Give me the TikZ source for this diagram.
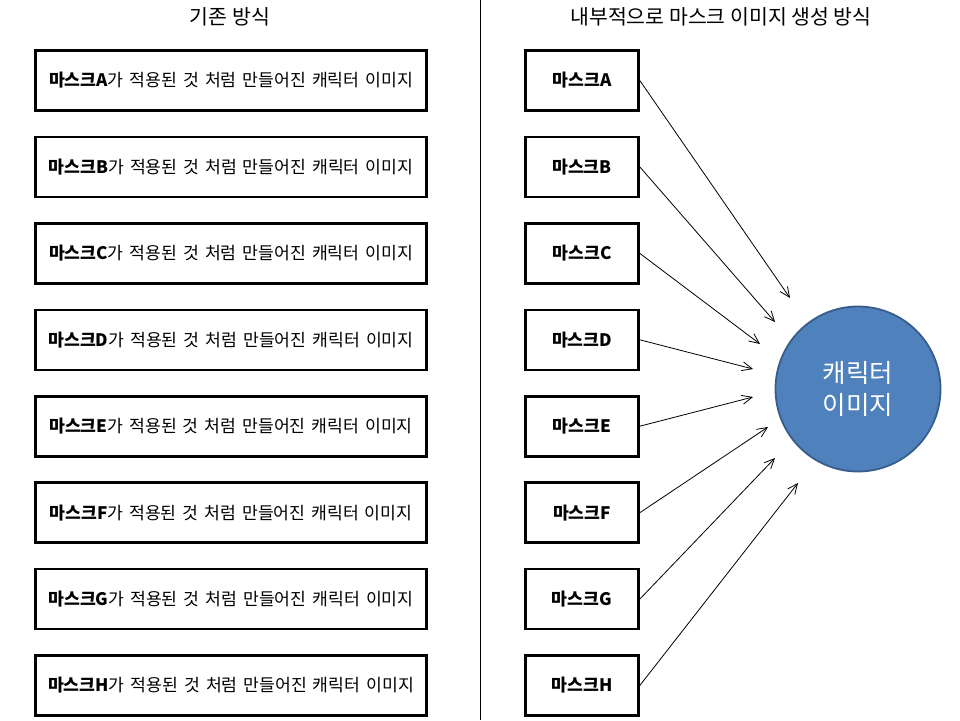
\documentclass[tikz,border=0pt]{standalone}
\usepackage{fontspec}
\setmainfont{Noto Sans CJK KR}
\usetikzlibrary{arrows.meta}
\definecolor{charfill}{RGB}{79,129,189}
\definecolor{charline}{RGB}{56,93,138}
\newcommand{\oldboxfont}{\fontsize{17.2}{20}\selectfont\spaceskip 6pt\relax}

\begin{document}
\begin{tikzpicture}[x=1pt,y=-1pt]
		\tikzstyle{every node}=[inner sep=0pt, font=\fontsize{17.2}{20}\selectfont]
		\tikzstyle{oldbox}=[draw, line width=2.6pt, minimum width=391pt, minimum height=60pt, font=\oldboxfont]
		\tikzstyle{maskbox}=[draw, line width=2.6pt, minimum width=113pt, minimum height=60pt]
		\tikzstyle{feed}=[-{Straight Barb[length=10pt,width=9pt]}, line width=0.8pt]
		\useasboundingbox (0,0) rectangle (960,720);
		\draw[line width=1pt] (480,0) -- (480,720);
		% titles
		\node[font=\fontsize{20.5}{24}\selectfont] (oldtitle) at (230,17) {기존 방식};
		\node[font=\fontsize{20.5}{24}\selectfont] (newtitle) at (721,17) {내부적으로 마스크 이미지 생성 방식};
		% left column
		\node[oldbox] (oA) at (231,80.5) {\textbf{마스크A}가 적용된 것 처럼 만들어진 캐릭터 이미지};
		\node[oldbox] (oB) at (231,166.9) {\textbf{마스크B}가 적용된 것 처럼 만들어진 캐릭터 이미지};
		\node[oldbox] (oC) at (231,253.4) {\textbf{마스크C}가 적용된 것 처럼 만들어진 캐릭터 이미지};
		\node[oldbox] (oD) at (231,339.8) {\textbf{마스크D}가 적용된 것 처럼 만들어진 캐릭터 이미지};
		\node[oldbox] (oE) at (231,426.2) {\textbf{마스크E}가 적용된 것 처럼 만들어진 캐릭터 이미지};
		\node[oldbox] (oF) at (231,512.7) {\textbf{마스크F}가 적용된 것 처럼 만들어진 캐릭터 이미지};
		\node[oldbox] (oG) at (231,599.1) {\textbf{마스크G}가 적용된 것 처럼 만들어진 캐릭터 이미지};
		\node[oldbox] (oH) at (231,685.5) {\textbf{마스크H}가 적용된 것 처럼 만들어진 캐릭터 이미지};
		% right column
		\node[maskbox] (mA) at (582,80.5) {\textbf{마스크A}};
		\node[maskbox] (mB) at (582,166.9) {\textbf{마스크B}};
		\node[maskbox] (mC) at (582,253.4) {\textbf{마스크C}};
		\node[maskbox] (mD) at (582,339.8) {\textbf{마스크D}};
		\node[maskbox] (mE) at (582,426.2) {\textbf{마스크E}};
		\node[maskbox] (mF) at (582,512.7) {\textbf{마스크F}};
		\node[maskbox] (mG) at (582,599.1) {\textbf{마스크G}};
		\node[maskbox] (mH) at (582,685.5) {\textbf{마스크H}};
		\node[circle, fill=charfill, draw=charline, line width=1.8pt, minimum size=165pt,
			text=white, align=center, font=\fontsize{25.5}{32}\selectfont] (char) at (858,389) {캐릭터\\이미지};
		\coordinate (eA) at (790,298);
		\coordinate (eB) at (775,322);
		\coordinate (eC) at (760,344);
		\coordinate (eD) at (753,369);
		\coordinate (eE) at (753,397);
		\coordinate (eF) at (768,427);
		\coordinate (eG) at (775,458);
		\coordinate (eH) at (798,483);
		\draw[feed] (mA.east)--(eA);
		\draw[feed] (mB.east)--(eB);
		\draw[feed] (mC.east)--(eC);
		\draw[feed] (mD.east)--(eD);
		\draw[feed] (mE.east)--(eE);
		\draw[feed] (mF.east)--(eF);
		\draw[feed] (mG.east)--(eG);
		\draw[feed] (mH.east)--(eH);
	\end{tikzpicture}
\end{document}
